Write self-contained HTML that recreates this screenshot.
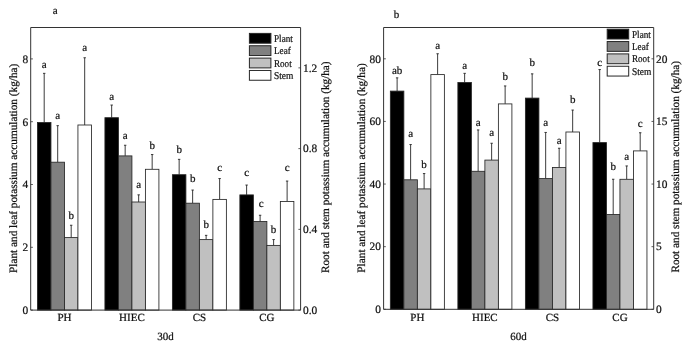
<!DOCTYPE html>
<html><head><meta charset="utf-8"><title>Potassium accumulation</title>
<style>
html,body{margin:0;padding:0;background:#fff;}
svg{display:block;will-change:transform;}
text{font-family:'Liberation Serif', 'Times New Roman', serif;fill:#111;stroke:#111;stroke-width:0.22px;text-rendering:geometricPrecision;}
</style></head>
<body>
<svg width="685" height="343" viewBox="0 0 685 343">
<rect width="685" height="343" fill="#fff"/>
<path d="M44.20 122.50V73.35M42.99 73.35H45.40" stroke="#262626" stroke-width="0.9" fill="none"/>
<rect x="37.45" y="122.50" width="13.50" height="187.60" fill="#000000" stroke="#262626" stroke-width="0.85"/>
<text x="44.20" y="68.25" text-anchor="middle" font-size="11">a</text>
<path d="M57.69 162.20V125.65M56.49 125.65H58.89" stroke="#262626" stroke-width="0.9" fill="none"/>
<rect x="50.94" y="162.20" width="13.50" height="147.90" fill="#808080" stroke="#262626" stroke-width="0.85"/>
<text x="57.69" y="118.85" text-anchor="middle" font-size="11">a</text>
<path d="M71.19 237.60V225.25M69.98 225.25H72.39" stroke="#262626" stroke-width="0.9" fill="none"/>
<rect x="64.44" y="237.60" width="13.50" height="72.50" fill="#c0c0c0" stroke="#262626" stroke-width="0.85"/>
<text x="71.19" y="218.95" text-anchor="middle" font-size="11">b</text>
<path d="M84.68 125.00V57.75M83.48 57.75H85.88" stroke="#262626" stroke-width="0.9" fill="none"/>
<rect x="77.93" y="125.00" width="13.50" height="185.10" fill="#ffffff" stroke="#262626" stroke-width="0.85"/>
<text x="84.68" y="50.95" text-anchor="middle" font-size="11">a</text>
<path d="M111.67 117.70V105.05M110.47 105.05H112.87" stroke="#262626" stroke-width="0.9" fill="none"/>
<rect x="104.92" y="117.70" width="13.50" height="192.40" fill="#000000" stroke="#262626" stroke-width="0.85"/>
<text x="111.67" y="99.55" text-anchor="middle" font-size="11">a</text>
<path d="M125.17 155.90V145.25M123.97 145.25H126.37" stroke="#262626" stroke-width="0.9" fill="none"/>
<rect x="118.42" y="155.90" width="13.50" height="154.20" fill="#808080" stroke="#262626" stroke-width="0.85"/>
<text x="125.17" y="139.45" text-anchor="middle" font-size="11">a</text>
<path d="M138.66 202.00V194.85M137.46 194.85H139.86" stroke="#262626" stroke-width="0.9" fill="none"/>
<rect x="131.91" y="202.00" width="13.50" height="108.10" fill="#c0c0c0" stroke="#262626" stroke-width="0.85"/>
<text x="138.66" y="188.05" text-anchor="middle" font-size="11">a</text>
<path d="M152.16 169.30V154.55M150.96 154.55H153.36" stroke="#262626" stroke-width="0.9" fill="none"/>
<rect x="145.41" y="169.30" width="13.50" height="140.80" fill="#ffffff" stroke="#262626" stroke-width="0.85"/>
<text x="152.16" y="148.95" text-anchor="middle" font-size="11">b</text>
<path d="M179.15 174.70V159.35M177.95 159.35H180.34" stroke="#262626" stroke-width="0.9" fill="none"/>
<rect x="172.40" y="174.70" width="13.50" height="135.40" fill="#000000" stroke="#262626" stroke-width="0.85"/>
<text x="179.15" y="152.65" text-anchor="middle" font-size="11">b</text>
<path d="M192.64 203.20V190.05M191.44 190.05H193.84" stroke="#262626" stroke-width="0.9" fill="none"/>
<rect x="185.89" y="203.20" width="13.50" height="106.90" fill="#808080" stroke="#262626" stroke-width="0.85"/>
<text x="192.64" y="181.85" text-anchor="middle" font-size="11">b</text>
<path d="M206.14 239.60V235.35M204.94 235.35H207.34" stroke="#262626" stroke-width="0.9" fill="none"/>
<rect x="199.39" y="239.60" width="13.50" height="70.50" fill="#c0c0c0" stroke="#262626" stroke-width="0.85"/>
<text x="206.14" y="228.25" text-anchor="middle" font-size="11">b</text>
<path d="M219.63 199.40V178.55M218.43 178.55H220.83" stroke="#262626" stroke-width="0.9" fill="none"/>
<rect x="212.88" y="199.40" width="13.50" height="110.70" fill="#ffffff" stroke="#262626" stroke-width="0.85"/>
<text x="219.63" y="170.75" text-anchor="middle" font-size="11">c</text>
<path d="M246.62 194.90V185.05M245.42 185.05H247.82" stroke="#262626" stroke-width="0.9" fill="none"/>
<rect x="239.87" y="194.90" width="13.50" height="115.20" fill="#000000" stroke="#262626" stroke-width="0.85"/>
<text x="246.62" y="175.55" text-anchor="middle" font-size="11">c</text>
<path d="M260.12 221.50V215.25M258.92 215.25H261.31" stroke="#262626" stroke-width="0.9" fill="none"/>
<rect x="253.37" y="221.50" width="13.50" height="88.60" fill="#808080" stroke="#262626" stroke-width="0.85"/>
<text x="261.31" y="206.95" text-anchor="middle" font-size="11">c</text>
<path d="M273.61 245.40V239.55M272.41 239.55H274.81" stroke="#262626" stroke-width="0.9" fill="none"/>
<rect x="266.86" y="245.40" width="13.50" height="64.70" fill="#c0c0c0" stroke="#262626" stroke-width="0.85"/>
<text x="273.61" y="232.85" text-anchor="middle" font-size="11">b</text>
<path d="M287.11 201.50V181.05M285.91 181.05H288.31" stroke="#262626" stroke-width="0.9" fill="none"/>
<rect x="280.36" y="201.50" width="13.50" height="108.60" fill="#ffffff" stroke="#262626" stroke-width="0.85"/>
<text x="287.11" y="170.75" text-anchor="middle" font-size="11">c</text>
<path d="M30.7 27.5H300.6V310.1H30.7Z" fill="none" stroke="#333" stroke-width="1"/>
<path d="M30.7 310.10h2.2" stroke="#333" stroke-width="0.8"/>
<text x="28.10" y="313.90" text-anchor="end" font-size="11.4">0</text>
<path d="M30.7 247.30h2.2" stroke="#333" stroke-width="0.8"/>
<text x="28.10" y="251.10" text-anchor="end" font-size="11.4">2</text>
<path d="M30.7 184.50h2.2" stroke="#333" stroke-width="0.8"/>
<text x="28.10" y="188.30" text-anchor="end" font-size="11.4">4</text>
<path d="M30.7 121.70h2.2" stroke="#333" stroke-width="0.8"/>
<text x="28.10" y="125.50" text-anchor="end" font-size="11.4">6</text>
<path d="M30.7 58.90h2.2" stroke="#333" stroke-width="0.8"/>
<text x="28.10" y="62.70" text-anchor="end" font-size="11.4">8</text>
<path d="M300.6 310.10h-2.2" stroke="#333" stroke-width="0.8"/>
<text x="303.00" y="313.90" font-size="11.4">0.0</text>
<path d="M300.6 229.36h-2.2" stroke="#333" stroke-width="0.8"/>
<text x="303.00" y="233.16" font-size="11.4">0.4</text>
<path d="M300.6 148.61h-2.2" stroke="#333" stroke-width="0.8"/>
<text x="303.00" y="152.41" font-size="11.4">0.8</text>
<path d="M300.6 67.87h-2.2" stroke="#333" stroke-width="0.8"/>
<text x="303.00" y="71.67" font-size="11.4">1.2</text>
<text x="64.44" y="321.0" text-anchor="middle" font-size="11">PH</text>
<text x="131.91" y="321.0" text-anchor="middle" font-size="11">HIEC</text>
<text x="199.39" y="321.0" text-anchor="middle" font-size="11">CS</text>
<text x="266.86" y="321.0" text-anchor="middle" font-size="11">CG</text>
<rect x="249.40" y="33.40" width="21.5" height="9.8" fill="#000000" stroke="#262626" stroke-width="1"/>
<text x="274.00" y="41.90" font-size="10.4" textLength="18.9" lengthAdjust="spacingAndGlyphs">Plant</text>
<rect x="249.40" y="45.75" width="21.5" height="9.8" fill="#808080" stroke="#262626" stroke-width="1"/>
<text x="274.00" y="54.25" font-size="10.4" textLength="16.8" lengthAdjust="spacingAndGlyphs">Leaf</text>
<rect x="249.40" y="58.10" width="21.5" height="9.8" fill="#c0c0c0" stroke="#262626" stroke-width="1"/>
<text x="274.00" y="66.60" font-size="10.4" textLength="17.7" lengthAdjust="spacingAndGlyphs">Root</text>
<rect x="249.40" y="70.45" width="21.5" height="9.8" fill="#ffffff" stroke="#262626" stroke-width="1"/>
<text x="274.00" y="78.95" font-size="10.4" textLength="19.4" lengthAdjust="spacingAndGlyphs">Stem</text>
<text transform="translate(16.8 168.3) rotate(-90)" text-anchor="middle" font-size="11.27">Plant and leaf potassium accumulation (kg/ha)</text>
<text transform="translate(328.7 167.2) rotate(-90)" text-anchor="middle" font-size="11.23">Root and stem potassium accumulation (kg/ha)</text>
<text x="165.6" y="339.5" text-anchor="middle" font-size="11">30d</text>
<text x="55.3" y="13.8" text-anchor="middle" font-size="11">a</text>
<path d="M397.11 91.10V77.85M395.91 77.85H398.31" stroke="#262626" stroke-width="0.9" fill="none"/>
<rect x="390.35" y="91.10" width="13.51" height="218.20" fill="#000000" stroke="#262626" stroke-width="0.85"/>
<text x="397.11" y="73.55" text-anchor="middle" font-size="11">ab</text>
<path d="M410.61 179.80V144.55M409.41 144.55H411.81" stroke="#262626" stroke-width="0.9" fill="none"/>
<rect x="403.86" y="179.80" width="13.51" height="129.50" fill="#808080" stroke="#262626" stroke-width="0.85"/>
<text x="410.61" y="137.45" text-anchor="middle" font-size="11">a</text>
<path d="M424.12 188.90V173.55M422.92 173.55H425.31" stroke="#262626" stroke-width="0.9" fill="none"/>
<rect x="417.36" y="188.90" width="13.51" height="120.40" fill="#c0c0c0" stroke="#262626" stroke-width="0.85"/>
<text x="424.12" y="167.95" text-anchor="middle" font-size="11">b</text>
<path d="M437.62 74.60V53.75M436.42 53.75H438.82" stroke="#262626" stroke-width="0.9" fill="none"/>
<rect x="430.87" y="74.60" width="13.51" height="234.70" fill="#ffffff" stroke="#262626" stroke-width="0.85"/>
<text x="437.62" y="49.15" text-anchor="middle" font-size="11">a</text>
<path d="M464.63 82.50V73.35M463.43 73.35H465.83" stroke="#262626" stroke-width="0.9" fill="none"/>
<rect x="457.88" y="82.50" width="13.51" height="226.80" fill="#000000" stroke="#262626" stroke-width="0.85"/>
<text x="464.63" y="69.05" text-anchor="middle" font-size="11">a</text>
<path d="M478.13 171.30V129.95M476.94 129.95H479.33" stroke="#262626" stroke-width="0.9" fill="none"/>
<rect x="471.38" y="171.30" width="13.51" height="138.00" fill="#808080" stroke="#262626" stroke-width="0.85"/>
<text x="478.13" y="125.95" text-anchor="middle" font-size="11">a</text>
<path d="M491.64 160.10V143.25M490.44 143.25H492.84" stroke="#262626" stroke-width="0.9" fill="none"/>
<rect x="484.89" y="160.10" width="13.51" height="149.20" fill="#c0c0c0" stroke="#262626" stroke-width="0.85"/>
<text x="491.64" y="135.75" text-anchor="middle" font-size="11">a</text>
<path d="M505.14 103.90V85.95M503.94 85.95H506.34" stroke="#262626" stroke-width="0.9" fill="none"/>
<rect x="498.39" y="103.90" width="13.51" height="205.40" fill="#ffffff" stroke="#262626" stroke-width="0.85"/>
<text x="505.14" y="80.25" text-anchor="middle" font-size="11">b</text>
<path d="M532.16 98.10V73.85M530.96 73.85H533.36" stroke="#262626" stroke-width="0.9" fill="none"/>
<rect x="525.40" y="98.10" width="13.51" height="211.20" fill="#000000" stroke="#262626" stroke-width="0.85"/>
<text x="532.16" y="65.75" text-anchor="middle" font-size="11">b</text>
<path d="M545.66 178.60V132.45M544.46 132.45H546.86" stroke="#262626" stroke-width="0.9" fill="none"/>
<rect x="538.91" y="178.60" width="13.51" height="130.70" fill="#808080" stroke="#262626" stroke-width="0.85"/>
<text x="545.66" y="125.95" text-anchor="middle" font-size="11">a</text>
<path d="M559.17 167.50V148.25M557.97 148.25H560.37" stroke="#262626" stroke-width="0.9" fill="none"/>
<rect x="552.41" y="167.50" width="13.51" height="141.80" fill="#c0c0c0" stroke="#262626" stroke-width="0.85"/>
<text x="559.17" y="143.85" text-anchor="middle" font-size="11">a</text>
<path d="M572.67 132.00V110.05M571.47 110.05H573.87" stroke="#262626" stroke-width="0.9" fill="none"/>
<rect x="565.92" y="132.00" width="13.51" height="177.30" fill="#ffffff" stroke="#262626" stroke-width="0.85"/>
<text x="572.67" y="103.05" text-anchor="middle" font-size="11">b</text>
<path d="M599.68 142.60V69.55M598.48 69.55H600.88" stroke="#262626" stroke-width="0.9" fill="none"/>
<rect x="592.93" y="142.60" width="13.51" height="166.70" fill="#000000" stroke="#262626" stroke-width="0.85"/>
<text x="599.68" y="65.95" text-anchor="middle" font-size="11">c</text>
<path d="M613.19 214.50V179.25M611.99 179.25H614.39" stroke="#262626" stroke-width="0.9" fill="none"/>
<rect x="606.43" y="214.50" width="13.51" height="94.80" fill="#808080" stroke="#262626" stroke-width="0.85"/>
<text x="613.19" y="169.85" text-anchor="middle" font-size="11">b</text>
<path d="M626.69 179.30V165.95M625.49 165.95H627.89" stroke="#262626" stroke-width="0.9" fill="none"/>
<rect x="619.94" y="179.30" width="13.51" height="130.00" fill="#c0c0c0" stroke="#262626" stroke-width="0.85"/>
<text x="626.69" y="160.35" text-anchor="middle" font-size="11">a</text>
<path d="M640.20 150.90V132.75M639.00 132.75H641.40" stroke="#262626" stroke-width="0.9" fill="none"/>
<rect x="633.44" y="150.90" width="13.51" height="158.40" fill="#ffffff" stroke="#262626" stroke-width="0.85"/>
<text x="640.20" y="126.85" text-anchor="middle" font-size="11">c</text>
<path d="M383.6 27.5H653.7V309.3H383.6Z" fill="none" stroke="#333" stroke-width="1"/>
<path d="M383.6 309.30h2.2" stroke="#333" stroke-width="0.8"/>
<text x="381.00" y="313.10" text-anchor="end" font-size="11.4">0</text>
<path d="M383.6 246.68h2.2" stroke="#333" stroke-width="0.8"/>
<text x="381.00" y="250.48" text-anchor="end" font-size="11.4">20</text>
<path d="M383.6 184.06h2.2" stroke="#333" stroke-width="0.8"/>
<text x="381.00" y="187.86" text-anchor="end" font-size="11.4">40</text>
<path d="M383.6 121.43h2.2" stroke="#333" stroke-width="0.8"/>
<text x="381.00" y="125.23" text-anchor="end" font-size="11.4">60</text>
<path d="M383.6 58.81h2.2" stroke="#333" stroke-width="0.8"/>
<text x="381.00" y="62.61" text-anchor="end" font-size="11.4">80</text>
<path d="M653.7 309.30h-2.2" stroke="#333" stroke-width="0.8"/>
<text x="656.10" y="313.10" font-size="11.4">0</text>
<path d="M653.7 246.68h-2.2" stroke="#333" stroke-width="0.8"/>
<text x="656.10" y="250.48" font-size="11.4">5</text>
<path d="M653.7 184.06h-2.2" stroke="#333" stroke-width="0.8"/>
<text x="656.10" y="187.86" font-size="11.4">10</text>
<path d="M653.7 121.43h-2.2" stroke="#333" stroke-width="0.8"/>
<text x="656.10" y="125.23" font-size="11.4">15</text>
<path d="M653.7 58.81h-2.2" stroke="#333" stroke-width="0.8"/>
<text x="656.10" y="62.61" font-size="11.4">20</text>
<text x="417.36" y="321.0" text-anchor="middle" font-size="11">PH</text>
<text x="484.89" y="321.0" text-anchor="middle" font-size="11">HIEC</text>
<text x="552.41" y="321.0" text-anchor="middle" font-size="11">CS</text>
<text x="619.94" y="321.0" text-anchor="middle" font-size="11">CG</text>
<rect x="607.20" y="29.20" width="21.5" height="9.8" fill="#000000" stroke="#262626" stroke-width="1"/>
<text x="632.00" y="37.70" font-size="10.4" textLength="18.9" lengthAdjust="spacingAndGlyphs">Plant</text>
<rect x="607.20" y="41.55" width="21.5" height="9.8" fill="#808080" stroke="#262626" stroke-width="1"/>
<text x="632.00" y="50.05" font-size="10.4" textLength="16.8" lengthAdjust="spacingAndGlyphs">Leaf</text>
<rect x="607.20" y="53.90" width="21.5" height="9.8" fill="#c0c0c0" stroke="#262626" stroke-width="1"/>
<text x="632.00" y="62.40" font-size="10.4" textLength="17.7" lengthAdjust="spacingAndGlyphs">Root</text>
<rect x="607.20" y="66.25" width="21.5" height="9.8" fill="#ffffff" stroke="#262626" stroke-width="1"/>
<text x="632.00" y="74.75" font-size="10.4" textLength="19.4" lengthAdjust="spacingAndGlyphs">Stem</text>
<text transform="translate(364.9 168.0) rotate(-90)" text-anchor="middle" font-size="11.27">Plant and leaf potassium accumulation (kg/ha)</text>
<text transform="translate(678.9 166.8) rotate(-90)" text-anchor="middle" font-size="11.23">Root and stem potassium accumulation (kg/ha)</text>
<text x="518.6" y="339.5" text-anchor="middle" font-size="11">60d</text>
<text x="396.5" y="18.1" text-anchor="middle" font-size="11">b</text>
</svg>
</body></html>
